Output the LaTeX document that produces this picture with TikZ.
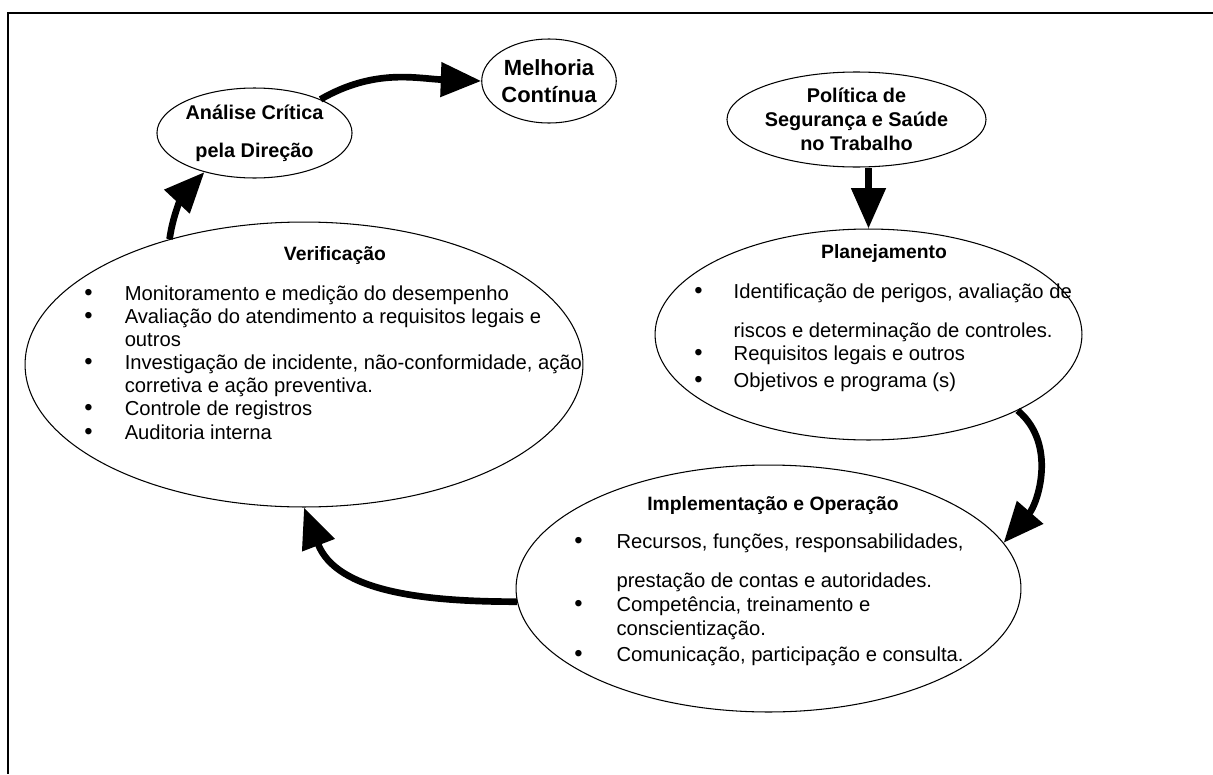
\documentclass[tikz,border=0pt]{standalone}
\usepackage{fontspec}
\setmainfont{Liberation Sans}
\usetikzlibrary{arrows.meta,shapes.geometric,positioning}

\newcommand{\bodysize}{\fontsize{11.5}{13.2}\selectfont}
\newcommand{\headsize}{\bfseries\fontsize{11.3}{13.8}\selectfont}
\newcommand{\bul}{{\fontsize{13.5}{13.2}\selectfont\textbullet}}

\tikzset{
    stage/.style={ellipse, draw, line width=0.6pt, inner sep=0pt, align=center},
    flow/.style={line width=3.8pt, -{Triangle[length=23pt, width=19pt]}},
    ttl/.style={anchor=base, inner sep=0pt, font=\bfseries\fontsize{11}{13.2}\selectfont},
    itm/.style={anchor=base west, inner sep=0pt, font=\bodysize}
}

\begin{document}
\begin{tikzpicture}[x=0.02cm, y=-0.02cm]
\useasboundingbox (0,0) rectangle (1213,774);
\draw[line width=1.1pt] (1213,13) -- (8,13) -- (8,774);

% small ellipses
\node[stage, minimum width=2.24cm, minimum height=1.68cm, font=\bfseries\fontsize{12.5}{15}\selectfont] (melhoria) at (549,81) {Melhoria\\Contínua};
\node[stage, minimum width=3.66cm, minimum height=1.8cm, font=\headsize] (analise) at (254.5,133) {Análise Crítica\\[8pt]pela Direção};
\node[stage, minimum width=4.74cm, minimum height=1.9cm, font=\headsize] (politica) at (856.5,119.5) {Política de\\Segurança e Saúde\\no Trabalho};

% big ellipses
\node[stage, minimum width=11.16cm, minimum height=5.7cm] (verif) at (304,364.5) {};
\node[stage, minimum width=8.54cm, minimum height=4.22cm] (planej) at (868.5,334.5) {};
\node[stage, minimum width=10.1cm, minimum height=4.94cm] (implem) at (768.5,588.5) {};

% titles
\node[ttl] (verif-ttl) at (335,260) {Verificação};
\node[ttl] (planej-ttl) at (884,258) {Planejamento};
\node[ttl] (implem-ttl) at (773,510) {Implementação e Operação};

% item lists
\node[itm] (verif-itm) at (84,300) {\begin{tabular}[t]{@{}p{23pt}@{}l@{}}
\bul & Monitoramento e medição do desempenho\\
\bul & Avaliação do atendimento a requisitos legais e\\
 & outros\\
\bul & Investigação de incidente, não-conformidade, ação\\
 & corretiva e ação preventiva.\\
\bul & Controle de registros\\
\bul & Auditoria interna
\end{tabular}};

\node[itm] (planej-itm) at (694,298) {\begin{tabular}[t]{@{}p{22.4pt}@{}l@{}}
\bul & Identificação de perigos, avaliação de\\[9pt]
 & riscos e determinação de controles.\\
\bul & Requisitos legais e outros\\[2.2pt]
\bul & Objetivos e programa (s)
\end{tabular}};

\node[itm] (implem-itm) at (574,548) {\begin{tabular}[t]{@{}p{24pt}@{}l@{}}
\bul & Recursos, funções, responsabilidades,\\[9pt]
 & prestação de contas e autoridades.\\[1pt]
\bul & Competência, treinamento e\\
 & conscientização.\\[1.6pt]
\bul & Comunicação, participação e consulta.
\end{tabular}};

% cycle arrows
\draw[flow] (verif.137) to[out=82, in=227] (analise.218);
\draw[flow] (analise.27) to[out=30, in=178] (melhoria.west);
\draw[flow] (planej.north |- politica.south) -- (planej.north);
\draw[flow] (planej.-27) to[out=-40, in=49] (implem.11);
\draw[flow] (implem.183) to[out=180, in=291] (verif.south);

\end{tikzpicture}
\end{document}
